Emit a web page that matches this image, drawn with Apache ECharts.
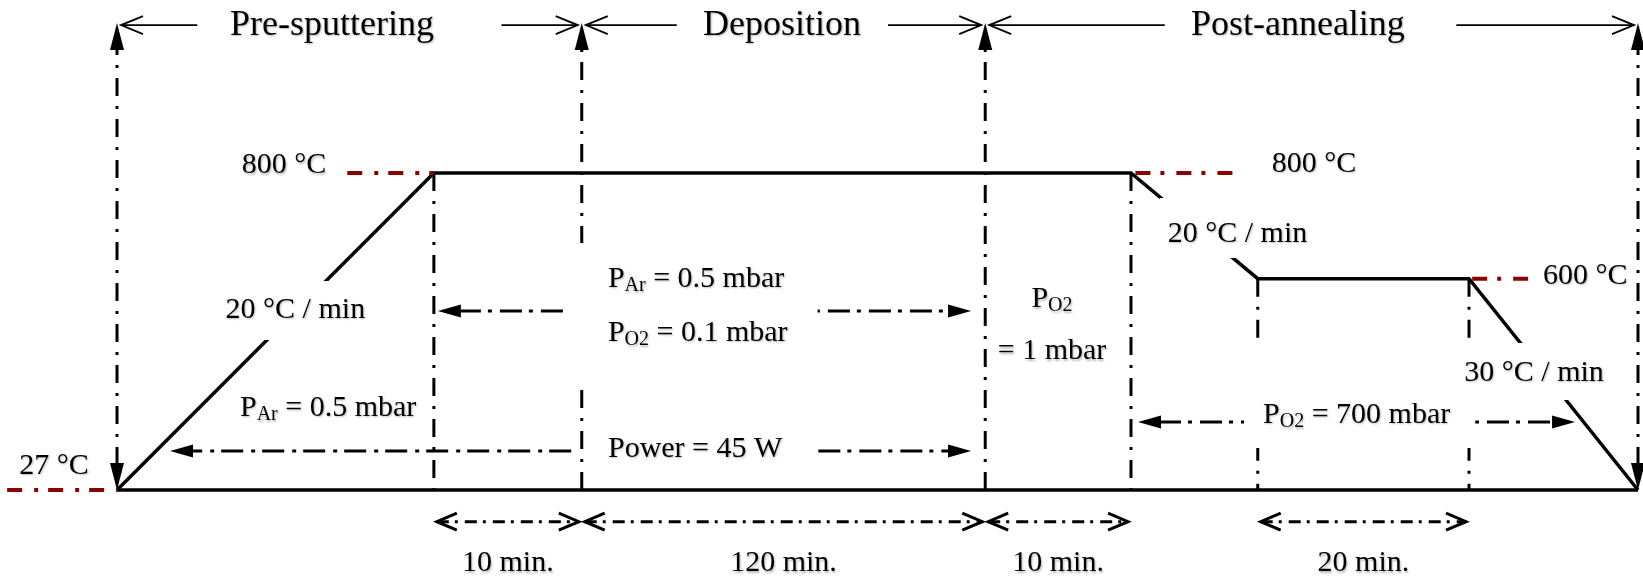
<!DOCTYPE html>
<html>
<head>
<meta charset="utf-8">
<script src="https://cdn.jsdelivr.net/npm/echarts@6/dist/echarts.min.js"></script>
<style>
  html, body { margin: 0; padding: 0; background: #fff; }
  #chart { width: 1643px; height: 582px; }
</style>
</head>
<body>
<div id="chart"></div>
<script>
// ---------------- process data ----------------
// Time runs on a schematic axis (stages are not drawn to scale);
// temperatures are drawn on schematic levels.
const stageNames = ['Pre-sputtering', 'Deposition', 'Post-annealing'];
const stageEdges = [0, 22, 41.1, 72];                 // stage boundaries (schematic time)
const profileTime = [0, 15, 48, 54, 64, 72];          // corners of the temperature profile
const profileTemp = [27, 800, 800, 600, 600, 27];     // °C at each corner
const tempValues = [27, 600, 800];                    // temperatures marked on the profile
const tempRank = [0, 2, 3];                           // drawing level of each marked temperature
const rampRates = ['20 °C / min', '20 °C / min', '30 °C / min'];
const durationLabels = ['10 min.', '120 min.', '10 min.', '20 min.'];
const durationFrom = [15, 22, 41.1, 54];
const durationTo = [22, 41.1, 48, 64];
const gasPre = 'P{s|Ar} = 0.5 mbar';
const gasDeposition = ['P{s|Ar} = 0.5 mbar', 'P{s|O2} = 0.1 mbar'];
const powerDeposition = 'Power = 45 W';
const gasHold = ['P{s|O2}', '= 1 mbar'];
const gasAnneal = 'P{s|O2} = 700 mbar';

const level = t => tempRank[tempValues.indexOf(t)];

// ---------------- layout (axis units) ----------------
const Y_TITLE = 4.40, Y_TIP = 4.42, Y_DUR = -0.30, Y_DUR_TEXT = -0.696;
const INSET = 0.19;
const SERIF = '"Liberation Serif", "Times New Roman", serif';

const KIND = {
  solid: { color: '#000', width: 3.5 },
  guide: { color: '#000', width: 3, dash: [18, 10, 3, 10], head: 'fill', headLen: 27, headW: 7 },
  red:   { color: '#8b0000', width: 4, dash: [15, 12, 4, 10] },
  gas:   { color: '#000', width: 3, dash: [22, 7, 4, 8], head: 'fill', headLen: 23, headW: 6.5 },
  thin:  { color: '#000', width: 1.8, head: 'open', headLen: 22, headW: 9 },
  dur:   { color: '#000', width: 3, dash: [12, 6, 3, 7], head: 'open', headLen: 20, headW: 8.5 }
};

const segs = [];
function seg(a, b, kind, h0, h1) { segs.push({ a, b, kind, h0: !!h0, h1: !!h1 }); }

// baseline
seg([stageEdges[0], 0], [stageEdges[stageEdges.length - 1], 0], 'solid');
// stage boundary guides with arrow heads
stageEdges.forEach((x, i) => {
  const outer = i === 0 || i === stageEdges.length - 1;
  seg([x, 0], [x, Y_TIP], 'guide', outer, true);
});
// guides dropped from the profile corners
for (let i = 1; i < profileTime.length - 1; i++) {
  seg([profileTime[i], level(profileTemp[i])], [profileTime[i], 0], 'guide');
}
// dark red temperature markers: corner index and extent
const refMarks = [[1, -4.1], [2, 4.8], [4, 2.8], [0, -5.2]];
refMarks.forEach(([c, len]) => {
  const t = profileTime[c], lv = level(profileTemp[c]);
  seg([t + len, lv], [t, lv], 'red');
});
// gas / power arrows
seg([15.19, 1.694], [40.43, 1.694], 'gas', true, true);
seg([21.5, 0.369], [2.51, 0.369], 'gas', false, true);
seg([33.2, 0.369], [40.43, 0.369], 'gas', false, true);
seg([48.33, 0.644], [69.02, 0.644], 'gas', true, true);
// stage title arrows (inner end of each half)
const titleInner = [[3.8, 18.2], [26.5, 36.5], [49.6, 63.4]];
titleInner.forEach(([l, r], i) => {
  seg([l, Y_TITLE], [stageEdges[i] + INSET, Y_TITLE], 'thin', false, true);
  seg([r, Y_TITLE], [stageEdges[i + 1] - INSET, Y_TITLE], 'thin', false, true);
});
// duration arrows
durationFrom.forEach((f, i) => {
  seg([f + 0.14, Y_DUR], [durationTo[i] - 0.14, Y_DUR], 'dur', true, true);
});

// ---------------- texts ----------------
const texts = [];
const titleX = [10.18, 31.48, 55.9];
stageNames.forEach((n, i) => texts.push({ text: n, size: 36, at: [titleX[i], Y_TITLE] }));

const tempLabelAt = [[7.9, 3.07], [56.66, 3.085], [69.5, 2.025], [-2.98, 0.227]];
refMarks.forEach(([c], i) => texts.push({ text: profileTemp[c] + ' °C', size: 30, at: tempLabelAt[i] }));

texts.push({ text: gasPre, size: 30, at: [5.82, 0.776], align: 'left' });
texts.push({ text: gasDeposition.join('\n'), size: 30, lh: 54, at: [21.25, 1.666], align: 'left', pad: [9, 30, 25, 42] });
texts.push({ text: powerDeposition, size: 30, at: [23.24, 0.388], align: 'left' });
texts.push({ text: gasHold.join('\n'), size: 30, lh: 52, at: [44.26, 1.56] });
texts.push({ text: gasAnneal, size: 30, at: [53.35, 0.894], align: 'left', pad: [57, 25, 18, 19] });

// rate labels sit on white boxes that interrupt the profile line
const rateAt = [[8.42, 1.699], [53.04, 2.479], [67.08, 1.121]];
const ratePad = [[14, 5, 15, 6], [21, 8, 9, 8], [15, 6, 12, 6]];
rampRates.forEach((r, i) => texts.push({ text: r, size: 30, at: rateAt[i], pad: ratePad[i] }));

durationLabels.forEach((d, i) => texts.push({ text: d, size: 30, at: [(durationFrom[i] + durationTo[i]) / 2, Y_DUR_TEXT] }));

// ---------------- renderers ----------------
function renderSeg(params, api) {
  const s = segs[params.dataIndex], k = KIND[s.kind];
  const p0 = api.coord(s.a), p1 = api.coord(s.b);
  const dx = p1[0] - p0[0], dy = p1[1] - p0[1], len = Math.hypot(dx, dy) || 1;
  const ux = dx / len, uy = dy / len, nx = -uy, ny = ux;
  const children = [];
  let s0 = p0, s1 = p1;
  const head = (tip, dir) => {
    const bx = tip[0] - dir * ux * k.headLen, by = tip[1] - dir * uy * k.headLen;
    const w1 = [bx + nx * k.headW, by + ny * k.headW];
    const w2 = [bx - nx * k.headW, by - ny * k.headW];
    if (k.head === 'fill') {
      children.push({ type: 'polygon', shape: { points: [tip, w1, w2] }, style: { fill: k.color } });
      return [bx + dir * ux * 2, by + dir * uy * 2];
    }
    children.push({ type: 'polyline', shape: { points: [w1, tip, w2] },
      style: { stroke: k.color, lineWidth: k.width, fill: null, lineJoin: 'miter' } });
    return tip;
  };
  if (s.h1) s1 = head(p1, 1);
  if (s.h0) s0 = head(p0, -1);
  children.unshift({ type: 'line', shape: { x1: s0[0], y1: s0[1], x2: s1[0], y2: s1[1] },
    style: { stroke: k.color, lineWidth: k.width, lineDash: k.dash || null, lineCap: 'butt', fill: null } });
  return { type: 'group', children };
}

function renderText(params, api) {
  const t = texts[params.dataIndex];
  const p = api.coord(t.at);
  const lh = t.lh || 30;
  return {
    type: 'text', x: p[0], y: p[1],
    style: {
      text: t.text, fill: '#000', fontSize: t.size, fontFamily: SERIF,
      align: t.align || 'center', verticalAlign: 'middle', lineHeight: t.size === 36 ? 40 : lh,
      backgroundColor: t.pad ? '#fff' : null, padding: t.pad || null,
      // subscript: smaller glyphs pushed below the line centre
      rich: { s: { fontSize: 20, fontFamily: SERIF, fill: '#000', padding: [14, 0, 0, 0] } },
      textShadowColor: 'rgba(0,0,0,0.28)', textShadowBlur: 2, textShadowOffsetX: 1, textShadowOffsetY: 1.5
    }
  };
}

const chart = echarts.init(document.getElementById('chart'), null, { renderer: 'canvas' });
chart.setOption({
  animation: false,
  backgroundColor: '#fff',
  grid: { left: 117, right: 5, top: 173, bottom: 92 },
  xAxis: { type: 'value', min: 0, max: 72, show: false },
  yAxis: { type: 'value', min: 0, max: 3, show: false },
  series: [
    {
      type: 'line', z: 2, silent: true, symbol: 'none', clip: false,
      data: profileTime.map((t, i) => [t, level(profileTemp[i])]),
      lineStyle: { color: '#000', width: 3.5, join: 'miter', cap: 'butt' }
    },
    {
      type: 'custom', z: 3, silent: true, clip: false, renderItem: renderSeg,
      encode: { x: [0, 2], y: [1, 3] },
      data: segs.map(s => [s.a[0], s.a[1], s.b[0], s.b[1]])
    },
    {
      type: 'custom', z: 5, silent: true, clip: false, renderItem: renderText,
      encode: { x: 0, y: 1 },
      data: texts.map(t => t.at)
    }
  ]
});
</script>
</body>
</html>
